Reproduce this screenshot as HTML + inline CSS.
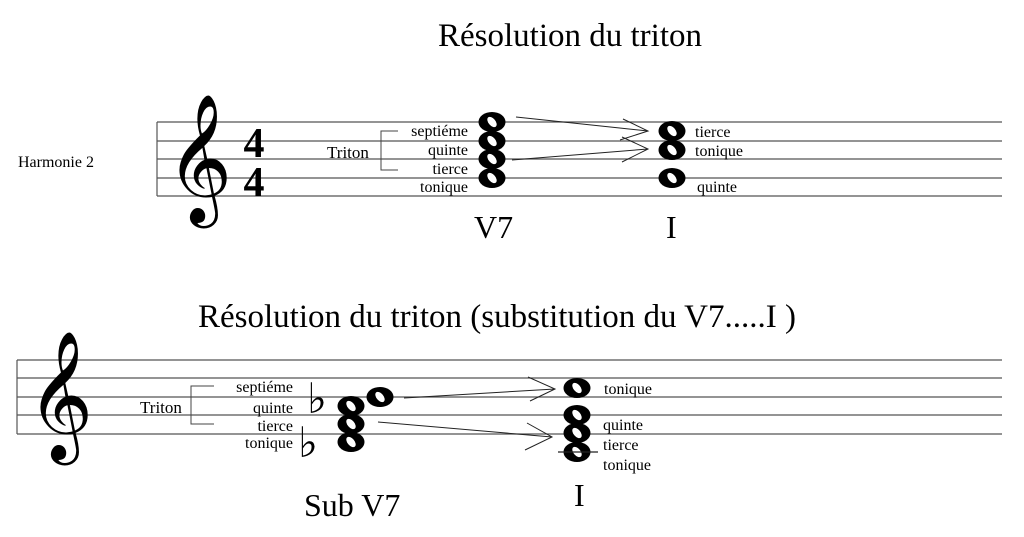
<!DOCTYPE html>
<html><head><meta charset="utf-8"><style>
html,body{margin:0;padding:0;background:#fff;}
svg{display:block;font-family:"Liberation Serif",serif;}
</style></head><body>
<svg width="1024" height="537" viewBox="0 0 1024 537" xmlns="http://www.w3.org/2000/svg">
<defs>
<g id="n"><ellipse cx="0" cy="0" rx="13.5" ry="10" fill="#000"/><ellipse cx="0" cy="0" rx="3.5" ry="6" fill="#fff" transform="rotate(-40)"/></g>
</defs>
<text x="570" y="46" font-size="33" text-anchor="middle">Résolution du triton</text>
<text x="18" y="167" font-size="16">Harmonie 2</text>
<g stroke="#555" stroke-width="1.2">
<line x1="157" y1="122" x2="1002" y2="122"/><line x1="157" y1="141" x2="1002" y2="141"/>
<line x1="157" y1="159" x2="1002" y2="159"/><line x1="157" y1="178" x2="1002" y2="178"/>
<line x1="157" y1="196" x2="1002" y2="196"/>
<line x1="157" y1="122" x2="157" y2="196"/>
</g>
<text x="166" y="196" font-family="DejaVu Sans,sans-serif" font-size="112">𝄞</text>
<text x="254" y="157" font-size="42" font-weight="bold" text-anchor="middle">4</text>
<text x="254" y="196" font-size="42" font-weight="bold" text-anchor="middle">4</text>
<text x="327" y="158" font-size="17">Triton</text>
<path d="M398 131 H381 V170 H398" fill="none" stroke="#444" stroke-width="1"/>
<g font-size="16" text-anchor="end">
<text x="468" y="136">septiéme</text><text x="468" y="155">quinte</text>
<text x="468" y="174">tierce</text><text x="468" y="192">tonique</text>
</g>
<use href="#n" x="492" y="122"/><use href="#n" x="492" y="141"/><use href="#n" x="492" y="159"/><use href="#n" x="492" y="178"/>
<g stroke="#222" stroke-width="1" fill="none">
<line x1="516" y1="117" x2="648" y2="131"/><path d="M623 119 L648 131 L620 140"/>
<line x1="512" y1="160" x2="648" y2="149"/><path d="M622 137 L648 149 L622 162"/>
</g>
<use href="#n" x="672" y="131"/><use href="#n" x="672" y="150"/><use href="#n" x="672" y="178"/>
<g font-size="16"><text x="695" y="137">tierce</text><text x="695" y="156">tonique</text><text x="697" y="192">quinte</text></g>
<text x="474" y="238" font-size="32">V7</text>
<text x="666" y="238" font-size="32">I</text>

<text x="497" y="327" font-size="33" text-anchor="middle">Résolution du triton (substitution du V7.....I )</text>
<g stroke="#555" stroke-width="1.2">
<line x1="17" y1="360" x2="1002" y2="360"/><line x1="17" y1="378" x2="1002" y2="378"/>
<line x1="17" y1="397" x2="1002" y2="397"/><line x1="17" y1="415" x2="1002" y2="415"/>
<line x1="17" y1="434" x2="1002" y2="434"/>
<line x1="17" y1="360" x2="17" y2="434"/>
</g>
<text x="27" y="433" font-family="DejaVu Sans,sans-serif" font-size="112">𝄞</text>
<text x="140" y="413" font-size="17">Triton</text>
<path d="M214 386 H191 V424 H214" fill="none" stroke="#444" stroke-width="1"/>
<g font-size="16" text-anchor="end">
<text x="293" y="392">septiéme</text><text x="293" y="413">quinte</text>
<text x="293" y="431">tierce</text><text x="293" y="448">tonique</text>
</g>
<text x="307" y="413" font-family="DejaVu Sans,sans-serif" font-size="42">♭</text>
<text x="298" y="457" font-family="DejaVu Sans,sans-serif" font-size="42">♭</text>
<use href="#n" x="351" y="406"/><use href="#n" x="351" y="424"/><use href="#n" x="351" y="442"/>
<use href="#n" x="380" y="397"/>
<g stroke="#222" stroke-width="1" fill="none">
<line x1="404" y1="398" x2="555" y2="389"/><path d="M528 377 L555 389 L530 401"/>
<line x1="378" y1="422" x2="552" y2="437"/><path d="M527 423 L552 437 L525 450"/>
</g>
<use href="#n" x="577" y="388"/><use href="#n" x="577" y="415"/><use href="#n" x="577" y="433"/><use href="#n" x="577" y="452"/>
<line x1="558" y1="452" x2="598" y2="452" stroke="#222" stroke-width="1.2"/>
<g font-size="16"><text x="604" y="394">tonique</text><text x="603" y="430">quinte</text><text x="603" y="450">tierce</text><text x="603" y="470">tonique</text></g>
<text x="304" y="516" font-size="32">Sub V7</text>
<text x="574" y="506" font-size="32">I</text>
</svg>
</body></html>
